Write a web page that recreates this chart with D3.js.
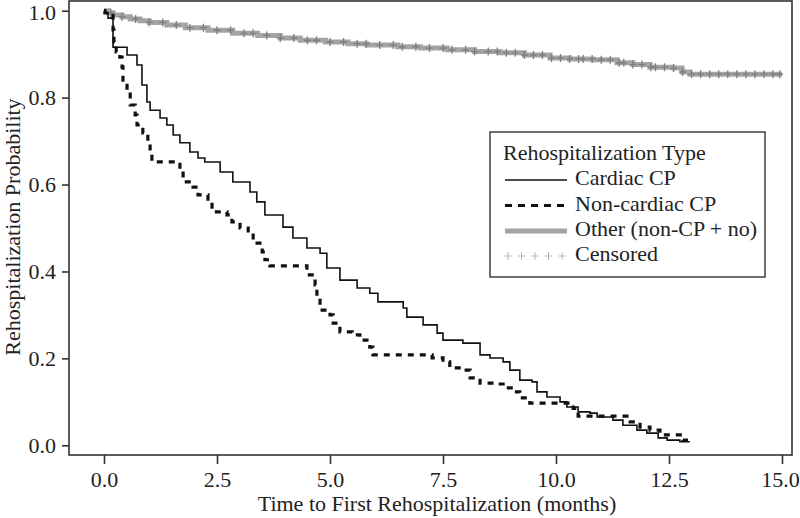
<!DOCTYPE html>
<html>
<head>
<meta charset="utf-8">
<script src="https://cdn.jsdelivr.net/npm/d3@7"></script>
<style>
  html, body { margin: 0; padding: 0; background: #fff; }
</style>
</head>
<body>
<svg id="chart" width="800" height="518" font-family="'Liberation Serif', 'Times New Roman', Times, serif"></svg>
<script>
// ---- data ----
const xTicks = [0, 2.5, 5, 7.5, 10, 12.5, 15];
const yTicks = [0, 0.2, 0.4, 0.6, 0.8, 1.0];
const legendTitle = "Rehospitalization Type";
const seriesNames = ["Cardiac CP", "Non-cardiac CP", "Other (non-CP + no)", "Censored"];

const cardiacTime = [0, 0.02, 0.09, 0.20, 0.51, 0.73, 0.84, 0.95, 1.02, 1.24, 1.39, 1.53, 1.68, 1.90, 2.08, 2.23,
  2.57, 2.85, 3.23, 3.38, 3.56, 3.96, 4.18, 4.49, 4.78, 4.93, 5.22, 5.60, 5.88, 6.06, 6.62, 6.70, 7.06, 7.37,
  7.50, 7.94, 8.32, 8.54, 8.83, 8.98, 9.20, 9.47, 9.58, 9.80, 10.09, 10.24, 10.49, 10.75, 10.91, 11.26, 11.48,
  11.79, 12.01, 12.26, 12.46, 12.74, 12.96];
const cardiacSurv = [1.0, 0.995, 0.983, 0.916, 0.898, 0.875, 0.829, 0.790, 0.771, 0.753, 0.737, 0.714, 0.696, 0.675, 0.661, 0.652,
  0.629, 0.606, 0.583, 0.560, 0.530, 0.502, 0.477, 0.454, 0.442, 0.408, 0.380, 0.362, 0.350, 0.330, 0.316, 0.295, 0.277, 0.258,
  0.242, 0.235, 0.208, 0.201, 0.192, 0.173, 0.150, 0.146, 0.123, 0.111, 0.100, 0.088, 0.077, 0.074, 0.065, 0.058, 0.046,
  0.035, 0.028, 0.017, 0.012, 0.008, 0.008];

const nonCardiacTime = [0, 0.02, 0.20, 0.22, 0.27, 0.35, 0.40, 0.42, 0.51, 0.58, 0.69, 0.73, 0.86, 0.97, 1.02, 1.06,
  1.68, 1.75, 1.97, 2.08, 2.30, 2.39, 2.72, 2.83, 3.01, 3.19, 3.30, 3.50, 3.56, 3.67, 4.49, 4.67, 4.71, 4.78,
  5.00, 5.07, 5.22, 5.49, 5.66, 5.88, 5.95, 7.26, 7.50, 7.65, 7.94, 8.10, 8.32, 8.65, 8.83, 9.05, 9.20, 9.42,
  10.38, 10.49, 11.64, 11.86, 12.08, 12.30, 12.81, 12.92];
const nonCardiacSurv = [1.0, 0.995, 0.956, 0.928, 0.905, 0.893, 0.870, 0.840, 0.813, 0.783, 0.760, 0.737, 0.719, 0.696, 0.675, 0.652,
  0.633, 0.606, 0.594, 0.576, 0.560, 0.537, 0.530, 0.514, 0.500, 0.488, 0.465, 0.445, 0.427, 0.413, 0.392, 0.369, 0.341, 0.311,
  0.300, 0.281, 0.261, 0.254, 0.242, 0.226, 0.208, 0.201, 0.192, 0.178, 0.173, 0.155, 0.143, 0.141, 0.132, 0.123, 0.109, 0.097,
  0.085, 0.067, 0.054, 0.042, 0.035, 0.024, 0.012, 0.012];

const otherTime = [0, 0.1, 0.2, 0.4, 0.58, 0.8, 1.0, 1.39, 1.8, 2.3, 2.85, 3.4, 3.9, 4.34, 4.9, 5.4, 5.82, 6.5, 7.0,
  7.59, 8.2, 8.76, 9.3, 9.87, 10.3, 10.82, 11.35, 11.7, 12.08, 12.59, 12.79, 12.96, 15.0];
const otherSurv = [1.0, 0.995, 0.990, 0.986, 0.981, 0.977, 0.973, 0.967, 0.961, 0.955, 0.948, 0.943, 0.937, 0.932, 0.928, 0.924,
  0.921, 0.917, 0.914, 0.910, 0.906, 0.903, 0.898, 0.891, 0.889, 0.887, 0.880, 0.876, 0.870, 0.868, 0.859, 0.854, 0.854];
const otherCensor = [0.15, 0.4, 0.7, 1.0, 1.3, 1.6, 1.9, 2.2, 2.5, 2.8, 3.1, 3.3, 3.6, 3.9, 4.2, 4.5, 4.7, 5.0, 5.3, 5.6,
  5.8, 6.1, 6.4, 6.6, 6.9, 7.2, 7.5, 7.7, 8.0, 8.2, 8.5, 8.7, 8.9, 9.1, 9.3, 9.5, 9.7, 9.9, 10.1, 10.3, 10.5, 10.6,
  10.8, 11.0, 11.2, 11.4, 11.5, 11.7, 11.9, 12.1, 12.2, 12.4, 12.6, 12.8, 13.0, 13.2, 13.4, 13.6, 13.8, 14.0, 14.2,
  14.4, 14.6, 14.8, 14.95];

// ---- layout ----
const FONT = "'Liberation Serif', 'Times New Roman', Times, serif";
const FS = 22;
const svg = d3.select("#chart");
const frame = {left: 69, right: 792, top: 1, bottom: 455};
const x = d3.scaleLinear().domain([0, 15]).range([104, 782]);
const y = d3.scaleLinear().domain([0, 1]).range([445.3, 10.7]);
const axisColor = "#333";
const txt = (sel) => sel.attr("font-family", FONT).style("font-family", FONT).attr("font-size", FS).attr("fill", "#222");

// frame box
svg.append("rect")
  .attr("x", frame.left).attr("y", frame.top)
  .attr("width", frame.right - frame.left).attr("height", frame.bottom - frame.top)
  .attr("fill", "none").attr("stroke", axisColor).attr("stroke-width", 1.6);

// axes
const yAxis = svg.append("g").attr("transform", `translate(${frame.left},0)`)
  .call(d3.axisLeft(y).tickValues(yTicks).tickFormat(d3.format(".1f")).tickSize(7).tickPadding(6));
const xAxis = svg.append("g").attr("transform", `translate(0,${frame.bottom})`)
  .call(d3.axisBottom(x).tickValues(xTicks).tickFormat(d3.format(".1f")).tickSize(9).tickPadding(7));
[yAxis, xAxis].forEach(g => {
  g.attr("font-family", FONT).attr("font-size", FS);
  g.select(".domain").remove();
  g.selectAll(".tick line").attr("stroke", axisColor).attr("stroke-width", 1.6);
  g.selectAll(".tick text").call(txt);
});
// keep the edge labels inside the canvas, like the reference
xAxis.selectAll(".tick text").filter(d => d === 15).attr("dx", -2);
yAxis.selectAll(".tick text").filter(d => d === 1).attr("y", 2);

// axis titles
svg.append("text").attr("x", 437).attr("y", 511).attr("text-anchor", "middle").call(txt)
  .text("Time to First Rehospitalization (months)");
svg.append("text").attr("transform", "translate(20,227) rotate(-90)").attr("text-anchor", "middle").call(txt)
  .text("Rehospitalization Probability");

// curves
const line = d3.line().x(d => x(d[0])).y(d => y(d[1])).curve(d3.curveStepAfter);
const otherData = otherTime.map((t, i) => [t, otherSurv[i]]);
const nonData = nonCardiacTime.map((t, i) => [t, nonCardiacSurv[i]]);
const cardData = cardiacTime.map((t, i) => [t, cardiacSurv[i]]);

svg.append("path").datum(otherData).attr("d", line)
  .attr("fill", "none").attr("stroke", "#a4a4a4").attr("stroke-width", 5);

// censor marks on other curve
const bis = d3.bisector(d => d).right;
svg.append("g").selectAll("path").data(otherCensor).join("path")
  .attr("transform", t => {
    const i = Math.max(0, bis(otherTime, t) - 1);
    return `translate(${x(t)},${y(otherSurv[i])})`;
  })
  .attr("d", "M-3.5,0H3.5M0,-4V4")
  .attr("stroke", "#7e7e7e").attr("stroke-width", 1.3).attr("fill", "none");

svg.append("path").datum(nonData).attr("d", line)
  .attr("fill", "none").attr("stroke", "#111").attr("stroke-width", 3.2)
  .attr("stroke-dasharray", "6,6");

svg.append("path").datum(cardData).attr("d", line)
  .attr("fill", "none").attr("stroke", "#111").attr("stroke-width", 1.6);

// legend
const lg = svg.append("g");
lg.append("rect").attr("x", 490).attr("y", 132).attr("width", 275).attr("height", 145)
  .attr("fill", "#fff").attr("stroke", axisColor).attr("stroke-width", 1.4);
lg.append("text").attr("x", 503).attr("y", 160).call(txt).text(legendTitle);
const rows = [185, 210.5, 236, 261];
rows.forEach((by, i) => {
  lg.append("text").attr("x", 575).attr("y", by).call(txt).text(seriesNames[i]);
});
const ly = rows.map(r => r - 5);
lg.append("line").attr("x1", 505).attr("x2", 567).attr("y1", ly[0]).attr("y2", ly[0])
  .attr("stroke", "#111").attr("stroke-width", 1.6);
lg.append("line").attr("x1", 505).attr("x2", 567).attr("y1", ly[1]).attr("y2", ly[1])
  .attr("stroke", "#111").attr("stroke-width", 3.2).attr("stroke-dasharray", "7,6");
lg.append("line").attr("x1", 505).attr("x2", 567).attr("y1", ly[2]).attr("y2", ly[2])
  .attr("stroke", "#a4a4a4").attr("stroke-width", 5);
lg.append("g").selectAll("path").data([0, 1, 2, 3, 4]).join("path")
  .attr("transform", k => `translate(${508 + k * 13.5},${ly[3]})`)
  .attr("d", "M-3.5,0H3.5M0,-4V4")
  .attr("stroke", "#b8b8b8").attr("stroke-width", 1).attr("fill", "none");
</script>
</body>
</html>
